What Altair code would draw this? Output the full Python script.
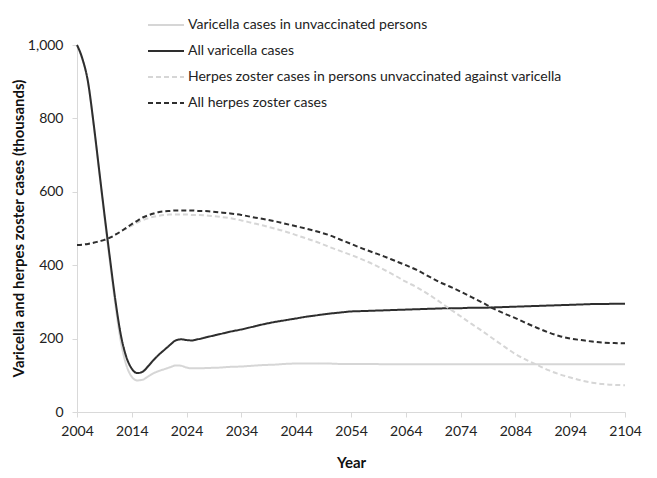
import altair as alt
import pandas as pd

years = list(range(2004, 2027)) + list(range(2028, 2105, 2))

varicella_unvacc = [
    1000, 960, 900, 785, 660, 532, 410, 292, 192, 128, 96, 86, 88, 97, 106, 112,
    117, 122, 127, 126, 121, 119, 119,
    120, 121, 123, 124, 126, 128, 129, 131, 132, 132, 132, 132, 131, 131, 131, 131,
    130, 130, 130, 130, 130, 130, 130, 130, 130, 130, 130, 130, 130, 130, 130, 130,
    130, 130, 130, 130, 130, 130, 130,
]
varicella_all = [
    1000, 962, 900, 790, 665, 540, 420, 305, 210, 150, 118, 106, 110, 125, 142, 157,
    170, 183, 195, 198, 196, 195, 198,
    205, 212, 219, 225, 232, 239, 245, 250, 255, 260, 264, 268, 271, 274, 275, 276,
    277, 278, 279, 280, 281, 282, 283, 283, 284, 284, 285, 286, 287, 288, 289, 290,
    291, 292, 293, 294, 294, 295, 295,
]
hz_unvacc = [
    455, 456, 458, 461, 465, 469, 475, 483, 492, 500, 508, 516, 523, 528, 532, 535,
    537, 538, 538, 538, 538, 537, 537,
    535, 532, 528, 522, 515, 508, 500, 492, 482, 472, 462, 450, 439, 428, 416, 403,
    388, 372, 355, 340, 322, 302, 281, 261, 240, 220, 199, 178, 158, 142, 128, 114,
    103, 94, 86, 80, 76, 74, 73,
]
hz_all = [
    455, 456, 458, 461, 465, 469, 475, 483, 492, 502, 512, 521, 530, 536, 541, 545,
    547, 548, 549, 549, 549, 549, 548,
    547, 544, 541, 537, 531, 526, 520, 513, 506, 499, 491, 482, 470, 458, 446, 435,
    424, 412, 400, 387, 371, 355, 342, 328, 313, 298, 282, 268, 256, 242, 229, 217,
    207, 200, 196, 192, 189, 188, 187,
]

series_names = [
    "Varicella cases in unvaccinated persons",
    "All varicella cases",
    "Herpes zoster cases in persons unvaccinated against varicella",
    "All herpes zoster cases",
]
series_colors = ["#d6d6d6", "#2e2e2e", "#d6d6d6", "#2e2e2e"]
series_dashes = [[1, 0], [1, 0], [5, 3], [5, 3]]
x_ticks = list(range(2004, 2105, 10))
y_ticks = [0, 200, 400, 600, 800, 1000]

rows = []
for name, vals in zip(series_names, [varicella_unvacc, varicella_all, hz_unvacc, hz_all]):
    for yr, v in zip(years, vals):
        rows.append({"Year": yr, "Cases": v, "Series": name})
df = pd.DataFrame(rows)

FONT = "Lato"

chart = alt.Chart(df).mark_line(strokeWidth=2, interpolate="monotone").encode(
    x=alt.X("Year:Q",
            scale=alt.Scale(domain=[2004, 2104], nice=False, zero=False),
            axis=alt.Axis(values=x_ticks, format="d", title="Year",
                          titleY=50, titleBaseline="middle", labelPadding=7,
                          labelFlush=False)),
    y=alt.Y("Cases:Q",
            scale=alt.Scale(domain=[0, 1000], nice=False),
            axis=alt.Axis(values=y_ticks, format=",.0f",
                          title="Varicella and herpes zoster cases (thousands)",
                          titleAngle=270, titleX=-59, titleY=183,
                          titleAlign="center", titleBaseline="middle",
                          labelPadding=9, labelFlush=False)),
    color=alt.Color("Series:N",
                    scale=alt.Scale(domain=series_names, range=series_colors),
                    legend=alt.Legend(title=None)),
    strokeDash=alt.StrokeDash("Series:N",
                              scale=alt.Scale(domain=series_names, range=series_dashes),
                              legend=alt.Legend(title=None)),
).properties(
    width=548,
    height=367,
    autosize=alt.AutoSizeParams(type="none"),
    padding={"left": 69, "top": 37, "right": 24, "bottom": 58},
).configure_view(
    stroke=None
).configure_axis(
    grid=False,
    domainColor="#d9d9d9",
    tickColor="#d9d9d9",
    tickSize=5,
    labelFont=FONT,
    labelFontSize=14,
    labelColor="#222222",
    titleFont=FONT,
    titleFontSize=15,
    titleFontWeight="bold",
    titleColor="#111111",
).configure_legend(
    orient="none",
    legendX=70,
    legendY=-27,
    symbolType="stroke",
    symbolSize=1296,
    symbolStrokeWidth=2,
    clipHeight=14,
    rowPadding=12,
    labelFont=FONT,
    labelFontSize=14,
    labelColor="#222222",
    labelOffset=3,
    labelLimit=600,
    padding=0,
)

chart.save("out.html", embed_options={"renderer": "svg", "actions": False})
